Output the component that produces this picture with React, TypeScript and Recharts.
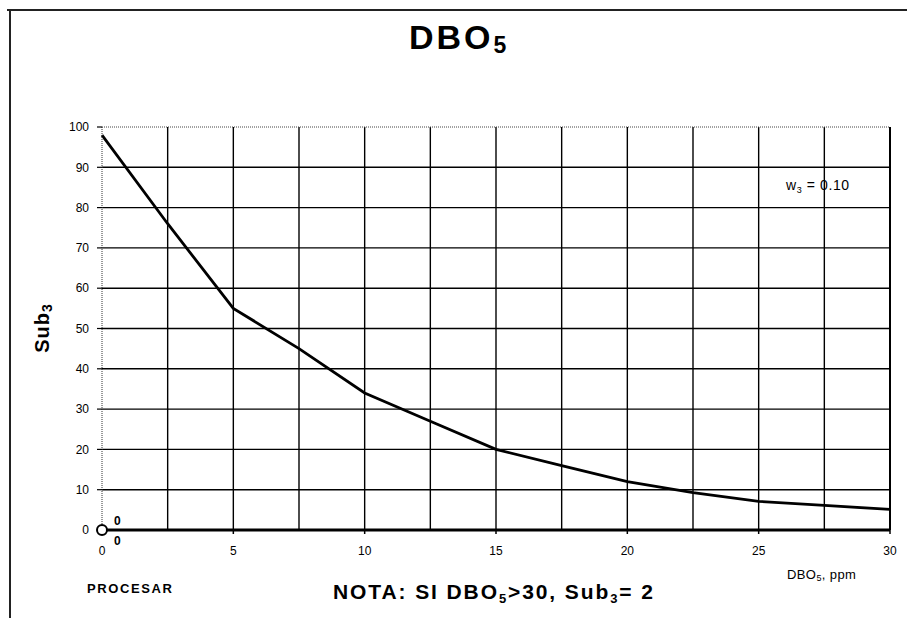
import React from 'react';
import {
  ComposedChart,
  Line,
  XAxis,
  YAxis,
  CartesianGrid,
  ReferenceLine,
  LabelList,
} from 'recharts';

// DBO5 (ppm) values
const dbo5 = [0, 2.5, 5, 7.5, 10, 12.5, 15, 17.5, 20, 22.5, 25, 27.5, 30];
// Sub3 values
const sub3 = [98, 76, 55, 45, 34, 27, 20, 16, 12, 9.3, 7.1, 6.1, 5.1];

// processed point shown at the origin
const procX = [0];
const procY = [0];

const xTicks = [0, 5, 10, 15, 20, 25, 30];
const yTicks = [0, 10, 20, 30, 40, 50, 60, 70, 80, 90, 100];
const xGridValues = [2.5, 5, 7.5, 10, 12.5, 15, 17.5, 20, 22.5, 25, 27.5];
const yGridValues = [10, 20, 30, 40, 50, 60, 70, 80, 90];

const curveData = dbo5.map((x, i) => ({ x, sub: sub3[i] }));
const procData = procX.map((x, i) => ({ x, p: procY[i] }));

const FONT = '"Liberation Sans", Arial, Helvetica, sans-serif';

const LabelAbove = (props: any) => (
  <text x={props.x + 12} y={props.y - 5} fontSize={12} fontWeight="bold" fontFamily={FONT} fill="#000">
    {props.value}
  </text>
);
const LabelBelow = (props: any) => (
  <text x={props.x + 12} y={props.y + 15} fontSize={12} fontWeight="bold" fontFamily={FONT} fill="#000">
    {props.value}
  </text>
);

export default function App() {
  return (
    <div style={{ position: 'absolute', left: 0, top: 0, width: 907, height: 618, background: '#fff' }}>
      <ComposedChart
        width={907}
        height={618}
        margin={{ top: 127, right: 17, bottom: 58, left: 42 }}
        style={{ fontFamily: FONT }}
      >
        <CartesianGrid
          stroke="#000"
          strokeWidth={1.4}
          horizontalValues={yGridValues}
          verticalValues={xGridValues}
        />
        <XAxis
          type="number"
          dataKey="x"
          domain={[0, 30]}
          ticks={xTicks}
          allowDuplicatedCategory={false}
          height={30}
          tickSize={4}
          tickMargin={12}
          axisLine={{ stroke: '#000', strokeWidth: 3 }}
          tickLine={{ stroke: '#000', strokeWidth: 1.5 }}
          tick={{ fontSize: 12, fill: '#000', fontFamily: FONT }}
        />
        <YAxis
          type="number"
          domain={[0, 100]}
          ticks={yTicks}
          width={60}
          tickSize={5}
          tickMargin={8}
          axisLine={{ stroke: '#333', strokeWidth: 1, strokeDasharray: '1 1' }}
          tickLine={{ stroke: '#000', strokeWidth: 1.2 }}
          tick={{ fontSize: 12, fill: '#000', fontFamily: FONT }}
        />
        <ReferenceLine y={100} stroke="#444" strokeWidth={1} strokeDasharray="1 1" />
        <ReferenceLine x={30} stroke="#000" strokeWidth={2} />
        <Line
          data={curveData}
          dataKey="sub"
          type="linear"
          stroke="#000"
          strokeWidth={2.8}
          dot={false}
          isAnimationActive={false}
        />
        <Line
          data={procData}
          dataKey="p"
          type="linear"
          stroke="none"
          dot={{ r: 5, fill: '#fff', stroke: '#000', strokeWidth: 2 }}
          isAnimationActive={false}
        >
          <LabelList dataKey="p" content={LabelAbove} />
          <LabelList dataKey="x" content={LabelBelow} />
        </Line>
      </ComposedChart>

      <svg
        width={907}
        height={618}
        style={{ position: 'absolute', left: 0, top: 0, pointerEvents: 'none' }}
        fontFamily={FONT}
      >
        {/* frame */}
        <line x1={7} y1={10} x2={907} y2={10} stroke="#222" strokeWidth={2} />
        <line x1={10} y1={9} x2={10} y2={618} stroke="#222" strokeWidth={2} />

        {/* title */}
        <text x={409} y={49} fontSize={34} fontWeight="bold" letterSpacing={3} fill="#000">
          DBO
          <tspan fontSize={23} dy={4}>5</tspan>
        </text>

        {/* y axis label */}
        <text
          x={0}
          y={0}
          transform="translate(49,328) rotate(-90)"
          textAnchor="middle"
          fontSize={20}
          fontWeight="bold"
          letterSpacing={1}
          fill="#000"
        >
          Sub
          <tspan fontSize={14} dy={3}>3</tspan>
        </text>

        {/* weight note */}
        <text x={786} y={190} fontSize={14} letterSpacing={0.6} fill="#000">
          w
          <tspan fontSize={9} dy={3}>3</tspan>
          <tspan dy={-3}> = 0.10</tspan>
        </text>

        {/* x axis title */}
        <text x={787} y={579} fontSize={13} letterSpacing={0.4} fill="#000">
          DBO
          <tspan fontSize={9} dy={2}>5</tspan>
          <tspan dy={-2}>, ppm</tspan>
        </text>

        {/* bottom texts */}
        <text x={87} y={593} fontSize={13} fontWeight="bold" letterSpacing={1.6} fill="#000">
          PROCESAR
        </text>
        <text x={333} y={599} fontSize={21} fontWeight="bold" letterSpacing={1.9} fill="#000">
          NOTA: SI DBO
          <tspan fontSize={13} dy={4}>5</tspan>
          <tspan dy={-4}>&gt;30, Sub</tspan>
          <tspan fontSize={13} dy={4}>3</tspan>
          <tspan dy={-4}>= 2</tspan>
        </text>
      </svg>
    </div>
  );
}
